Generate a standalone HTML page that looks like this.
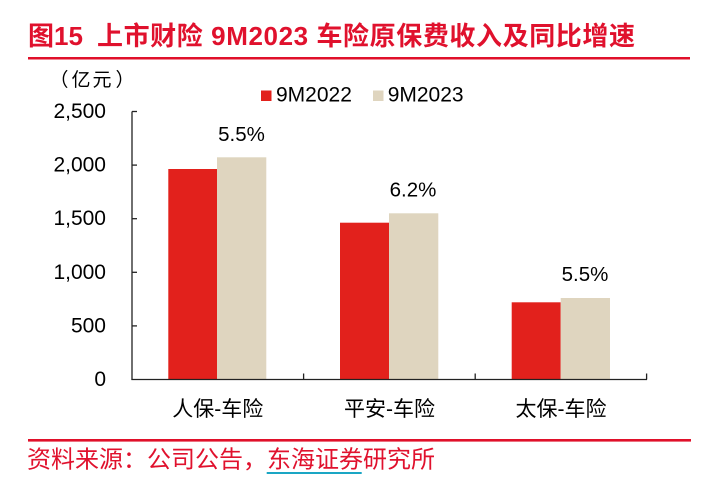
<!DOCTYPE html>
<html>
<head>
<meta charset="utf-8">
<style>
  html, body { margin: 0; padding: 0; background: #ffffff; }
  body { width: 717px; height: 493px; overflow: hidden; }
  svg { display: block; }
  text { font-family: "Liberation Sans", "Noto Sans CJK SC", sans-serif; }
</style>
</head>
<body>
<svg width="717" height="493" viewBox="0 0 717 493" xmlns="http://www.w3.org/2000/svg">
  <!-- Title -->
  <text x="28" y="45" font-size="26" font-weight="bold" fill="#E0112D">图15</text>
  <text x="97" y="45" font-size="26" font-weight="bold" fill="#E0112D" textLength="538" lengthAdjust="spacing">上市财险 9M2023 车险原保费收入及同比增速</text>
  <rect x="28" y="57" width="662" height="2.5" fill="#E0102A"/>

  <!-- Unit label -->
  <g font-size="19" fill="#000" text-anchor="middle">
    <text x="59" y="86">（</text>
    <text x="81" y="86">亿</text>
    <text x="102" y="86">元</text>
    <text x="125" y="86">）</text>
  </g>

  <!-- Legend -->
  <rect x="261" y="90.5" width="10.5" height="10.5" fill="#E2211C"/>
  <text x="276" y="101.7" font-size="21" fill="#000">9M2022</text>
  <rect x="373" y="90.5" width="10.5" height="10.5" fill="#DFD5BF"/>
  <text x="387.7" y="101.7" font-size="21" fill="#000">9M2023</text>

  <!-- Y tick labels -->
  <g font-size="21" fill="#000" text-anchor="end">
    <text x="106" y="118">2,500</text>
    <text x="106" y="171.6">2,000</text>
    <text x="106" y="225.2">1,500</text>
    <text x="106" y="278.8">1,000</text>
    <text x="106" y="332.4">500</text>
    <text x="106" y="386">0</text>
  </g>

  <!-- Bars -->
  <rect x="168.3" y="169" width="48.7" height="210.5" fill="#E2211C"/>
  <rect x="217" y="157.3" width="49.3" height="222.2" fill="#DFD5BF"/>
  <rect x="340" y="222.7" width="49" height="156.8" fill="#E2211C"/>
  <rect x="389" y="213.3" width="49.3" height="166.2" fill="#DFD5BF"/>
  <rect x="511.7" y="302.3" width="49" height="77.2" fill="#E2211C"/>
  <rect x="560.7" y="298" width="49.3" height="81.5" fill="#DFD5BF"/>

  <!-- Axes -->
  <g stroke="#222" stroke-width="1.3" fill="none">
    <line x1="132" y1="111.5" x2="132" y2="380"/>
    <line x1="131.4" y1="379.5" x2="647" y2="379.5"/>
    <line x1="132" y1="111.5" x2="137" y2="111.5"/>
    <line x1="132" y1="165.1" x2="137" y2="165.1"/>
    <line x1="132" y1="218.7" x2="137" y2="218.7"/>
    <line x1="132" y1="272.3" x2="137" y2="272.3"/>
    <line x1="132" y1="325.9" x2="137" y2="325.9"/>
    <line x1="303.6" y1="379.5" x2="303.6" y2="373.5"/>
    <line x1="475.2" y1="379.5" x2="475.2" y2="373.5"/>
    <line x1="646.6" y1="379.5" x2="646.6" y2="373.5"/>
  </g>

  <!-- Growth labels -->
  <g font-size="20.5" fill="#000" text-anchor="middle">
    <text x="241.5" y="141">5.5%</text>
    <text x="413" y="196.7">6.2%</text>
    <text x="585" y="281">5.5%</text>
  </g>

  <!-- Category labels -->
  <g font-size="21" fill="#000" text-anchor="middle">
    <text x="217.8" y="416">人保-车险</text>
    <text x="389.5" y="416">平安-车险</text>
    <text x="561" y="416">太保-车险</text>
  </g>

  <!-- Bottom line & source -->
  <rect x="28" y="439" width="663" height="2.6" fill="#E0102A"/>
  <text x="27" y="467.5" font-size="24" fill="#E0112D">资料来源：公司公告，东海证券研究所</text>
  <rect x="266.7" y="472" width="95" height="2" fill="#1AA6C4"/>
</svg>
</body>
</html>
